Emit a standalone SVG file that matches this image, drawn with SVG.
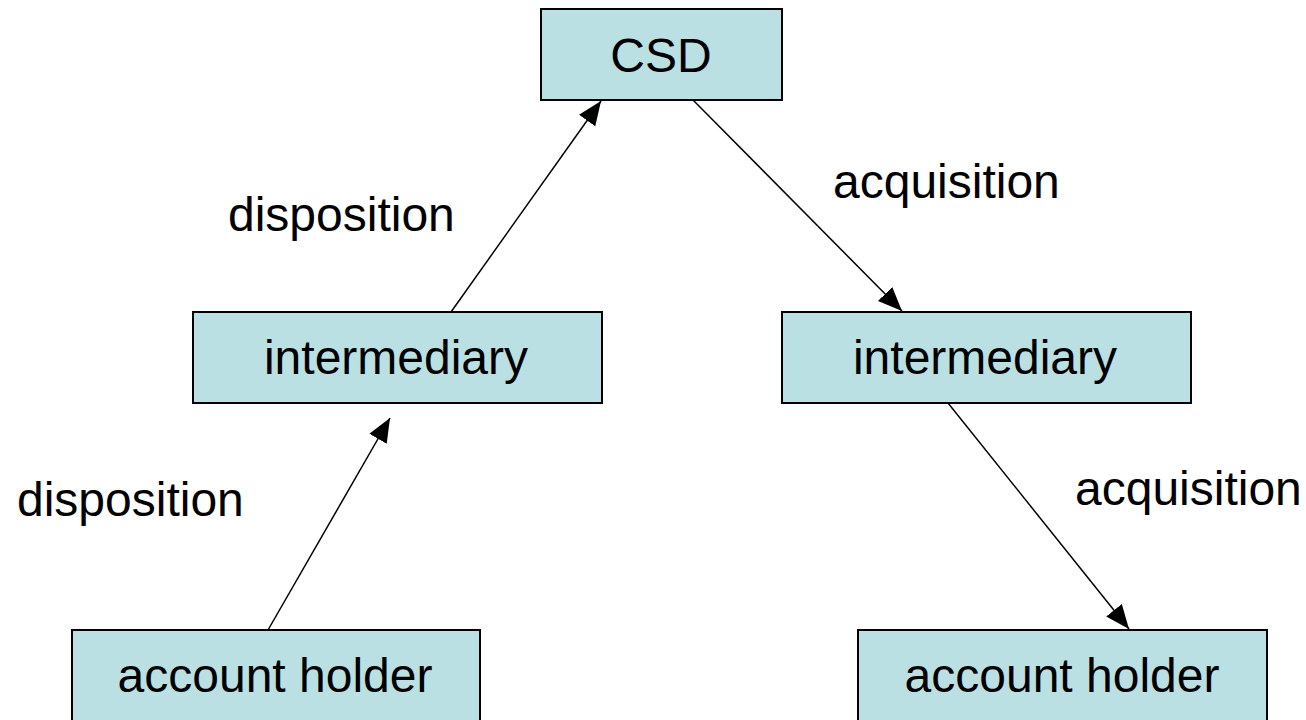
<svg xmlns="http://www.w3.org/2000/svg" width="1306" height="720" viewBox="0 0 1306 720">
<style>
.box{fill:#BBE0E3;stroke:#000;stroke-width:2}
.t{font-family:"Liberation Sans",Arial,sans-serif;font-size:48px;fill:#000}
.c{text-anchor:middle}
.e{stroke:#000;stroke-width:1.5;fill:none;marker-end:url(#ah)}
</style>
<defs>
<marker id="ah" markerUnits="userSpaceOnUse" markerWidth="26" markerHeight="22" refX="24" refY="10" orient="auto" viewBox="0 0 26 20">
<path d="M0,0 L24,10 L0,20 Z" fill="#000"/>
</marker>
</defs>
<rect width="1306" height="720" fill="#fff"/>
<g id="connectors">
<line class="e" x1="268" y1="630" x2="390" y2="418"/>
<line class="e" x1="451" y1="312" x2="601" y2="101"/>
<line class="e" x1="693" y1="100" x2="902" y2="311"/>
<line class="e" x1="948" y1="403" x2="1129" y2="629"/>
</g>
<g id="csd"><rect class="box" x="541" y="9" width="241" height="91"/><text class="t c" x="661" y="72">CSD</text></g>
<g id="intermediary-left"><rect class="box" x="193" y="312" width="409" height="91"/><text class="t c" x="396" y="374">intermediary</text></g>
<g id="intermediary-right"><rect class="box" x="782" y="312" width="409" height="91"/><text class="t c" x="985" y="374">intermediary</text></g>
<g id="account-holder-left"><rect class="box" x="72" y="630" width="408" height="100"/><text class="t c" x="275" y="692">account holder</text></g>
<g id="account-holder-right"><rect class="box" x="858" y="630" width="409" height="100"/><text class="t c" x="1062" y="692">account holder</text></g>
<g id="labels">
<text class="t" x="228" y="231">disposition</text>
<text class="t" x="833" y="198">acquisition</text>
<text class="t" x="17" y="516">disposition</text>
<text class="t" x="1075" y="505">acquisition</text>
</g>
</svg>
